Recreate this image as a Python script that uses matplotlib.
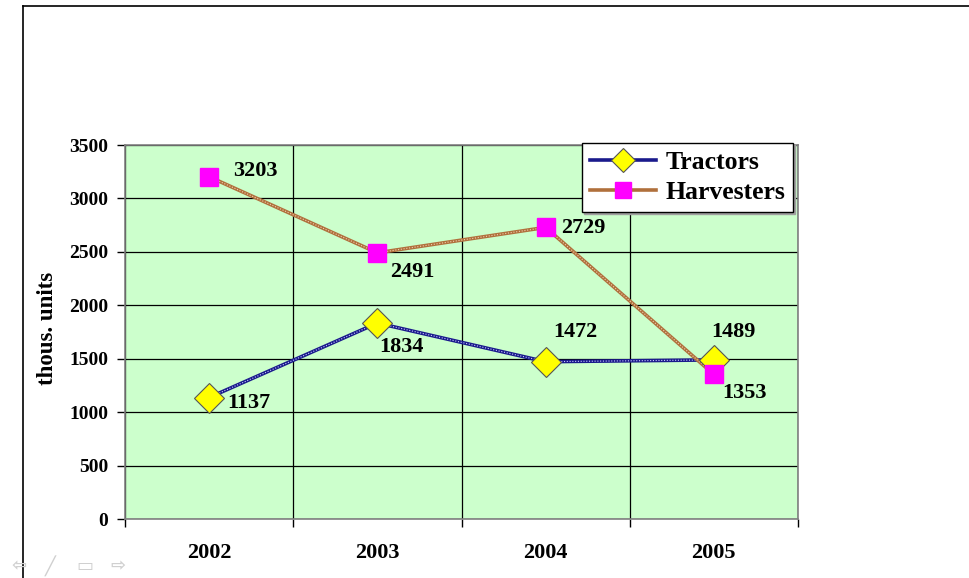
import matplotlib.pyplot as plt
from matplotlib.lines import Line2D
import numpy as np

years = ['2002', '2003', '2004', '2005']
tractors = [1137, 1834, 1472, 1489]
harvesters = [3203, 2491, 2729, 1353]

# label offsets in pixels (dx, dy)
tr_off = [(40, -5), (24, -24), (30, 30), (20, 28)]
hv_off = [(46, 6), (35, -19), (38, -1), (31, -19)]

plt.rcParams['font.family'] = ['Liberation Serif', 'DejaVu Serif']
plt.rcParams['font.weight'] = 'bold'

fig = plt.figure(figsize=(9.69, 5.78), dpi=100)
ax = fig.add_axes([125/969, 1-519/578, 673/969, 374/578])
ax.set_facecolor('#ccffcc')

x = np.arange(len(years))

# textured lines: solid colour with light dots on top
ax.plot(x, tractors, color='#1a1a8c', lw=2.6, zorder=3)
ax.plot(x, tractors, color='#c8c8ff', lw=0.8, ls=(0, (1, 1.5)), zorder=3)
ax.plot(x, harvesters, color='#b0703c', lw=2.6, zorder=3)
ax.plot(x, harvesters, color='#f0d0b0', lw=0.8, ls=(0, (1, 1.5)), zorder=3)

ax.plot(x, tractors, ls='none', marker='D', ms=15, mfc='#ffff00', mec='#555555', mew=0.8, zorder=4)
ax.plot(x, harvesters, ls='none', marker='s', ms=12.5, mfc='#ff00ff', mec='#ff00ff', zorder=5)

for xi, v, o in zip(x, tractors, tr_off):
    ax.annotate(str(v), (xi, v), xytext=o, textcoords='offset pixels',
                ha='center', va='center', fontsize=16, fontweight='bold', zorder=6)
for xi, v, o in zip(x, harvesters, hv_off):
    ax.annotate(str(v), (xi, v), xytext=o, textcoords='offset pixels',
                ha='center', va='center', fontsize=16, fontweight='bold', zorder=6)

ax.set_xlim(-0.5, 3.5)
ax.set_ylim(0, 3500)
ax.set_yticks(np.arange(0, 3501, 500))
ax.set_xticks(np.arange(-0.5, 3.6, 1))
ax.set_xticklabels([])
ax.set_xticks(x, minor=True)
ax.set_xticklabels(years, minor=True)
ax.tick_params(axis='x', which='major', length=6, width=1, color='black')
ax.tick_params(axis='x', which='minor', length=0, pad=17, labelsize=16)
ax.tick_params(axis='y', length=6, width=1, pad=6, labelsize=14)
ax.grid(True, which='major', color='black', lw=0.9)
ax.set_axisbelow(True)
for s in ax.spines.values():
    s.set_color('#808080')
    s.set_linewidth(1.2)

ax.set_ylabel('thous. units', fontsize=16.5, fontweight='bold')
ax.yaxis.set_label_coords(-67/673, 0.51)

h1 = Line2D([], [], color='#1a1a8c', lw=2.6, marker='D', ms=12, mfc='#ffff00', mec='#555555', mew=0.8)
h2 = Line2D([], [], color='#b0703c', lw=2.6, marker='s', ms=11, mfc='#ff00ff', mec='#ff00ff')
leg = ax.legend([h1, h2], ['Tractors', 'Harvesters'], loc='upper right',
                bbox_to_anchor=(793/969, 1-143/578), bbox_transform=fig.transFigure,
                fancybox=False, framealpha=1, edgecolor='black', handlelength=2.6,
                prop={'size': 18.5, 'weight': 'bold'}, borderpad=0.3, labelspacing=0.3,
                handletextpad=0.35, borderaxespad=0,
                shadow={'color': '#a0a0a0', 'alpha': 1, 'ox': 1.5, 'oy': -1.5})
leg.get_frame().set_linewidth(1.0)
leg.set_zorder(10)

# slide frame
fig.add_artist(Line2D([23/969, 23/969], [0, 1-6/578], color='black', lw=1.2))
fig.add_artist(Line2D([23/969, 1], [1-6/578, 1-6/578], color='black', lw=1.2))

# faint slide navigation icons
for px, ch in zip([19, 50, 85, 118], ['\u21e6', '\u2571', '\u25ad', '\u21e8']):
    fig.text(px/969, 1-566/578, ch, color='#d0d0d0', fontsize=13,
             family='DejaVu Sans', ha='center', va='center')

fig.savefig('out.png', dpi=100)
